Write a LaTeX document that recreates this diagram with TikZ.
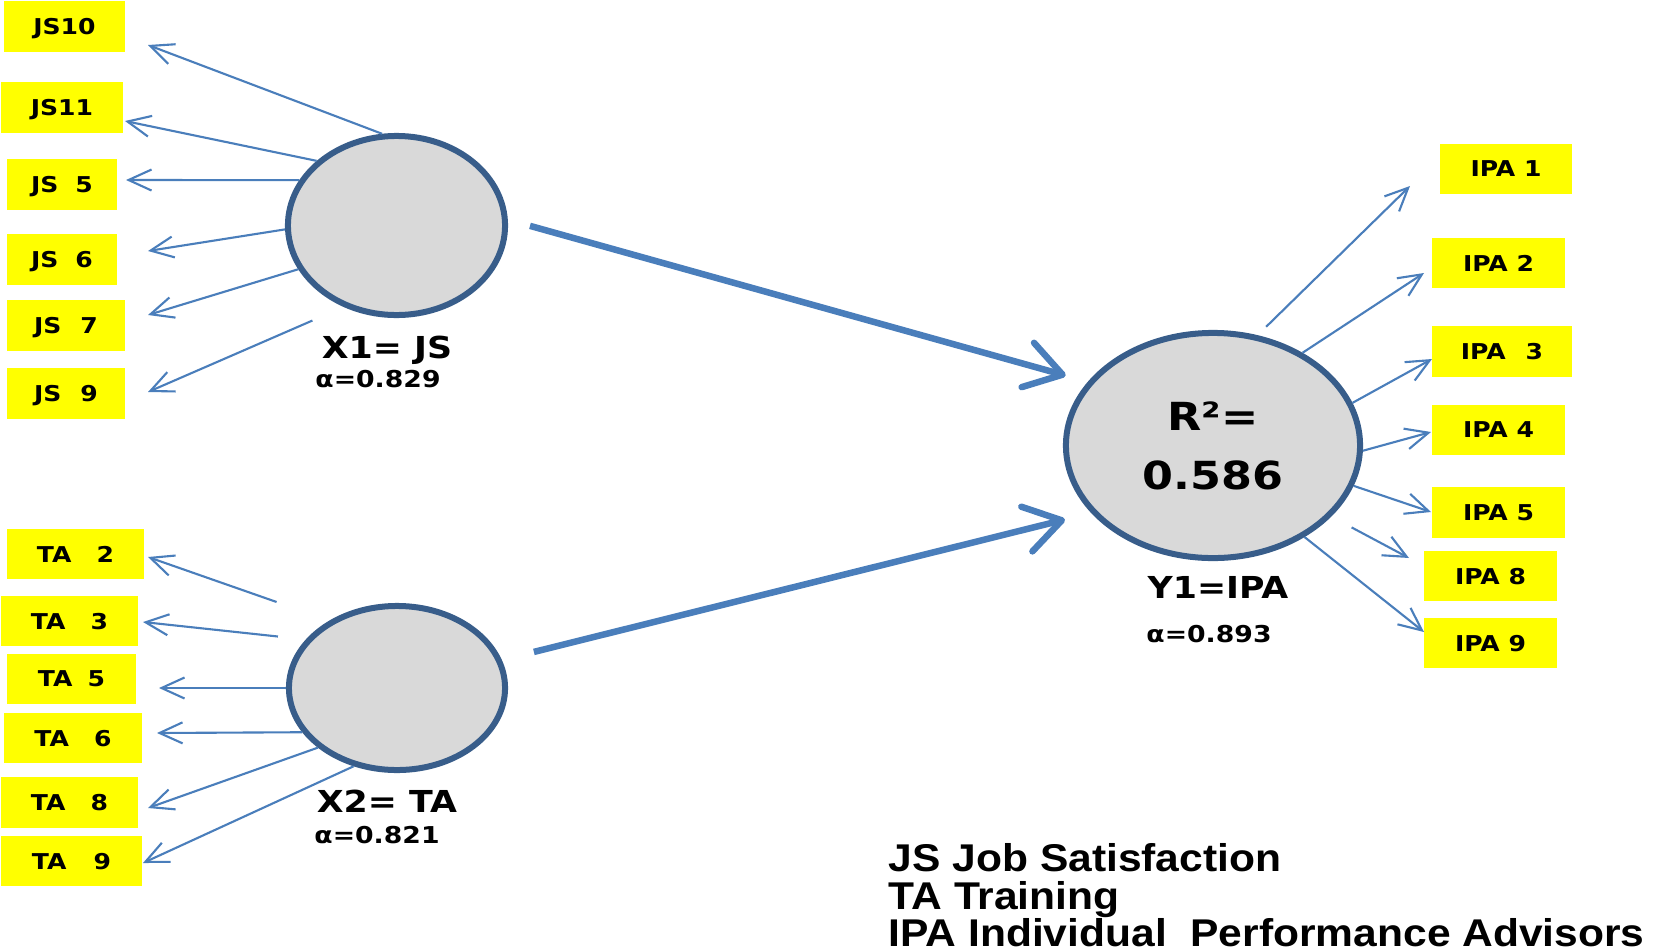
\documentclass[tikz,border=0pt]{standalone}
\usepackage{fontspec}
\usepackage{tikz}
\usetikzlibrary{arrows.meta,shapes.geometric}
\newfontfamily\diagfont{DejaVu Sans}[FakeStretch=1.15]
\newfontfamily\keyfont{Liberation Sans}[FakeStretch=1.1]
\definecolor{itemyellow}{RGB}{255,255,0}
\definecolor{rimblue}{RGB}{56,93,138}
\definecolor{discgray}{RGB}{217,217,217}
\definecolor{loadblue}{RGB}{74,126,187}
\tikzstyle{itembox}=[fill=itemyellow,inner sep=0pt,minimum height=5mm,text depth=0pt,
                     font=\diagfont\bfseries\fontsize{6.2}{7}\selectfont]
\tikzstyle{latent}=[ellipse,draw=rimblue,fill=discgray,line width=0.6mm,inner sep=0pt]
\tikzstyle{latname}=[anchor=base,font=\diagfont\bfseries\fontsize{8.6}{10}\selectfont]
\tikzstyle{relia}=[anchor=base,font=\diagfont\bfseries\fontsize{6.6}{8}\selectfont]
\tikzstyle{loading}=[draw=loadblue,line width=0.6pt,
                     -{Straight Barb[length=2.3mm,width=2.1mm]}]
\tikzstyle{effect}=[draw=loadblue,line width=0.65mm,
                    -{Straight Barb[length=3.6mm,width=4.6mm,line width=0.65mm,round]}]

\begin{document}
\begin{tikzpicture}[x=0.01cm,y=-0.01cm]
    \useasboundingbox (0,0) rectangle (1654,951);
    % latent variables
    \node (x1) at (396.5,225.5) [latent,minimum width=21.7mm,minimum height=17.9mm]{};
    \node (x2) at (397,688) [latent,minimum width=21.6mm,minimum height=16.4mm]{};
    \node (y1) at (1213,445.5) [latent,minimum width=29.4mm,minimum height=22.5mm,
        align=center,font=\diagfont\bfseries\fontsize{11}{16.8}\selectfont]{R²=\\0.586};
    \node (x1n) at (387,358) [latname]{X1= JS};
    \node (x1a) at (378,387) [relia]{α=0.829};
    \node (x2n) at (387,812) [latname]{X2= TA};
    \node (x2a) at (377,843) [relia]{α=0.821};
    \node (y1n) at (1218,598) [latname]{Y1=IPA};
    \node (y1a) at (1209,642) [relia]{α=0.893};

    % indicators
    \node (js10) at (64.5,26.5) [itembox,minimum width=12.1mm]{JS10};
    \node (js11) at (62,107.5) [itembox,minimum width=12.2mm]{JS11};
    \node (js5) at (62,184.5) [itembox,minimum width=11mm]{JS\hspace{1.7mm}5};
    \node (js6) at (62,259.5) [itembox,minimum width=11mm]{JS\hspace{1.7mm}6};
    \node (js7) at (66,325.5) [itembox,minimum width=11.8mm]{JS\hspace{1.9mm}7};
    \node (js9) at (66,393.5) [itembox,minimum width=11.8mm]{JS\hspace{1.9mm}9};
    \node (ta2) at (75.5,554) [itembox,minimum width=13.7mm]{TA\hspace{2.5mm}2};
    \node (ta3) at (69.5,621) [itembox,minimum width=13.7mm]{TA\hspace{2.5mm}3};
    \node (ta5) at (71.5,679) [itembox,minimum width=12.9mm]{TA\hspace{1.5mm}5};
    \node (ta6) at (73,738) [itembox,minimum width=13.8mm]{TA\hspace{2.5mm}6};
    \node (ta8) at (69.5,802.5) [itembox,minimum width=13.7mm]{TA\hspace{2.5mm}8};
    \node (ta9) at (71.5,861) [itembox,minimum width=14.1mm]{TA\hspace{2.7mm}9};
    \node (ipa1) at (1506,169) [itembox,minimum width=13.1mm]{IPA 1};
    \node (ipa2) at (1498.5,263) [itembox,minimum width=13.3mm]{IPA 2};
    \node (ipa3) at (1502,351.5) [itembox,minimum width=14mm]{IPA\hspace{2mm}3};
    \node (ipa4) at (1498.5,430) [itembox,minimum width=13.3mm]{IPA 4};
    \node (ipa5) at (1498.5,512.5) [itembox,minimum width=13.3mm]{IPA 5};
    \node (ipa8) at (1490.5,576) [itembox,minimum width=13.3mm]{IPA 8};
    \node (ipa9) at (1490.5,643) [itembox,minimum width=13.3mm]{IPA 9};

    % arrow tips stop short of the boxes
    \coordinate (js10t) at (148,45);
    \coordinate (js11t) at (125,121);
    \coordinate (js5t) at (126,180);
    \coordinate (js6t) at (148,251);
    \coordinate (js7t) at (148,315);
    \coordinate (js9t) at (148,392);
    \coordinate (ta2t) at (148,557);
    \coordinate (ta3t) at (143,622);
    \coordinate (ta5t) at (159,688);
    \coordinate (ta6t) at (157,733);
    \coordinate (ta8t) at (148,808);
    \coordinate (ta9t) at (143,863);
    \coordinate (ipa1t) at (1410,186);
    \coordinate (ipa2t) at (1424,273);
    \coordinate (ipa3t) at (1432,359);
    \coordinate (ipa4t) at (1431,432);
    \coordinate (ipa5t) at (1431,512);
    \coordinate (ipa8t) at (1409,558);
    \coordinate (ipa9t) at (1424,632);

    \draw[loading] (x1.99) -- (js10t);
    \draw[loading] (x1.141) -- (js11t);
    \draw[loading] (x1.155) -- (js5t);
    \draw[loading] (x1.182) -- (js6t);
    \draw[loading] (x1.204) -- (js7t);
    \draw[loading,shorten <=3.4mm] (x1.237) -- (js9t);
    \draw[loading,shorten <=5.6mm] (x2.135) -- (ta2t);
    \draw[loading,shorten <=2.8mm] (x2.152) -- (ta3t);
    \draw[loading] (x2.180) -- (ta5t);
    \draw[loading] (x2.205) -- (ta6t);
    \draw[loading] (x2.217) -- (ta8t);
    \draw[loading] (x2.241) -- (ta9t);
    \draw[loading,shorten <=1.2mm] (y1.68) -- (ipa1t);
    \draw[loading] (y1.46) -- (ipa2t);
    \draw[loading] (y1.17) -- (ipa3t);
    \draw[loading] (y1.358) -- (ipa4t);
    \draw[loading] (y1.344) -- (ipa5t);
    \draw[loading,shorten <=2.3mm] (y1.329) -- (ipa8t);
    \draw[loading] (y1.315) -- (ipa9t);

    % structural paths
    \draw[effect,shorten <=2.3mm,shorten >=2.3mm] (x1.3) -- (y1.153);
    \draw[effect,shorten <=3.3mm,shorten >=2.7mm] (x2.15) -- (y1.209);

    \node (key) at (888,843) [anchor=north west,inner sep=0pt,align=left,
        font=\keyfont\bfseries\fontsize{11}{10.67}\selectfont]
        {JS Job Satisfaction\\TA Training\\IPA Individual\ \ Performance Advisors};
\end{tikzpicture}
\end{document}
